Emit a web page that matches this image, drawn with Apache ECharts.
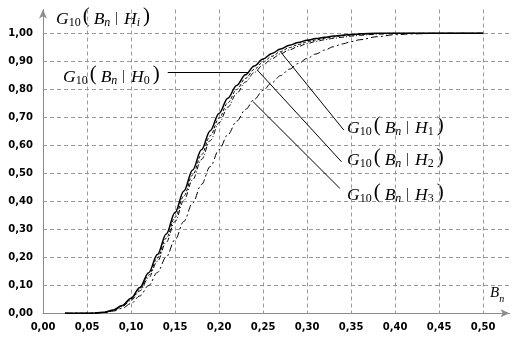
<!DOCTYPE html>
<html>
<head>
<meta charset="utf-8">
<script src="https://cdn.jsdelivr.net/npm/echarts@6/dist/echarts.min.js"></script>
<style>
  html, body { margin: 0; padding: 0; background: #fff; }
  #chart { width: 520px; height: 340px; }
</style>
</head>
<body>
<div id="chart"></div>
<script>
// B_n sample points shared by the four distribution curves
const bn = [0.025, 0.05, 0.06, 0.07, 0.08, 0.09, 0.10, 0.11, 0.12, 0.13, 0.14, 0.15,
            0.16, 0.17, 0.18, 0.19, 0.20, 0.21, 0.22, 0.23, 0.24, 0.25, 0.26, 0.27,
            0.28, 0.29, 0.30, 0.31, 0.32, 0.33, 0.34, 0.35, 0.36, 0.38, 0.40, 0.42,
            0.45, 0.50];

// G10(Bn | H0) .. G10(Bn | H3)
const gH0 = [0, 0, 0.001, 0.004, 0.012, 0.028, 0.054, 0.092, 0.145, 0.210, 0.283, 0.360,
             0.437, 0.512, 0.584, 0.652, 0.714, 0.768, 0.814, 0.852, 0.883, 0.908, 0.928, 0.944,
             0.957, 0.967, 0.975, 0.981, 0.986, 0.990, 0.993, 0.996, 0.998, 1.000, 1.000, 1.000,
             1.000, 1.000];
const gH1 = [0, 0, 0.001, 0.004, 0.011, 0.026, 0.050, 0.086, 0.136, 0.198, 0.268, 0.343,
             0.419, 0.494, 0.566, 0.634, 0.697, 0.752, 0.799, 0.839, 0.871, 0.897, 0.918, 0.935,
             0.949, 0.960, 0.969, 0.976, 0.982, 0.987, 0.991, 0.994, 0.996, 0.999, 1.000, 1.000,
             1.000, 1.000];
const gH2 = [0, 0, 0.001, 0.003, 0.010, 0.024, 0.046, 0.080, 0.127, 0.186, 0.254, 0.328,
             0.403, 0.477, 0.549, 0.617, 0.680, 0.736, 0.785, 0.826, 0.860, 0.887, 0.909, 0.927,
             0.941, 0.953, 0.963, 0.971, 0.977, 0.982, 0.986, 0.990, 0.993, 0.997, 0.999, 1.000,
             1.000, 1.000];
const gH3 = [0, 0, 0.0005, 0.002, 0.008, 0.018, 0.035, 0.062, 0.099, 0.146, 0.201, 0.263,
             0.328, 0.394, 0.460, 0.524, 0.584, 0.638, 0.686, 0.728, 0.764, 0.796, 0.824, 0.849,
             0.872, 0.892, 0.910, 0.926, 0.940, 0.952, 0.962, 0.970, 0.977, 0.988, 0.995, 0.998,
             1.000, 1.000];

// Leader lines from each caption to its curve, in (Bn, G) coordinates
const leaderH0 = [[0.1417, 0.8607], [0.2330, 0.8607]];
const leaderH1 = [[0.2701, 0.933], [0.3417, 0.6546]];
const leaderH2 = [[0.2434, 0.869], [0.3391, 0.5414]];
const leaderH3 = [[0.2383, 0.757], [0.3372, 0.4464]];

const fmtComma = v => v.toFixed(2).replace('.', ',');

// Rich-text tokens for the G10(Bn | Hk) captions; each token's box height
// (top-aligned) fixes where its glyphs sit, which gives the subscripts.
const serif = 'Liberation Serif';
const tok = (size, h, extra) => Object.assign({
  fontFamily: serif, fontSize: size, height: h, verticalAlign: 'top', fill: '#000'
}, extra || {});
const mathRich = {
  g:   tok(17.5, 20.5, { fontStyle: 'italic' }),
  v:   tok(17.5, 20.5, { fontStyle: 'italic' }),
  s:   tok(12, 27),
  si:  tok(12, 27, { fontStyle: 'italic' }),
  pl:  tok(21, 14.2, { padding: [0, 4, 0, 2] }),
  pr:  tok(21, 14.2, { padding: [0, 0, 0, 3] }),
  bar: tok(14, 17.8, { padding: [0, 6, 0, 5] })
};
function caption(sub, italicSub) {
  return '{g|G}{s|10}{pl|(}{v|B}{si|n}{bar||}{v|H}{' + (italicSub ? 'si' : 's') + '|' + sub + '}{pr|)}';
}
function captionEl(x, y, sub, italicSub) {
  return {
    type: 'text', x: x, y: y, silent: true,
    style: { text: caption(sub, italicSub), rich: mathRich, fill: '#000', align: 'left', verticalAlign: 'top' }
  };
}

function curve(name, ys, lineStyle) {
  return {
    name: name, type: 'line', data: bn.map((x, i) => [x, ys[i]]),
    showSymbol: false, smooth: 0.35, smoothMonotone: 'x', silent: true,
    lineStyle: Object.assign({ color: '#000' }, lineStyle)
  };
}
const leader = pts => [{ coord: pts[0] }, { coord: pts[1] }];

const chart = echarts.init(document.getElementById('chart'), null, { renderer: 'canvas' });
const axisGray = '#8c8c8c';
const labelStyle = { color: '#000', fontFamily: 'DejaVu Sans', fontWeight: 'bold', fontSize: 10 };
const gridDash = { color: '#9a9a9a', width: 1, type: [4, 3] };

const h0Series = curve('H0', gH0, { width: 1.5, type: 'solid' });
h0Series.markLine = {
  silent: true, symbol: ['none', 'none'], label: { show: false },
  lineStyle: { color: '#000', width: 1, type: 'solid' },
  data: [leader(leaderH0), leader(leaderH1), leader(leaderH2), leader(leaderH3)]
};

chart.setOption({
  animation: false,
  backgroundColor: '#fff',
  grid: { left: 43, right: 10.5, top: 9.5, bottom: 26.7, containLabel: false },
  xAxis: {
    type: 'value', min: 0, max: 0.53, interval: 0.05,
    axisLine: { show: true, onZero: false, symbol: ['none', 'arrow'], symbolSize: [6, 9],
                lineStyle: { color: axisGray, width: 1 } },
    axisTick: { show: false },
    axisLabel: Object.assign({ margin: 9, showMaxLabel: false,
                formatter: v => (v > 0.501 ? '' : fmtComma(v)) }, labelStyle),
    splitLine: { show: true, showMinLine: false, showMaxLine: false, lineStyle: gridDash }
  },
  yAxis: {
    type: 'value', min: 0, max: 1.085, interval: 0.1,
    axisLine: { show: true, onZero: false, symbol: ['none', 'arrow'], symbolSize: [6, 9],
                lineStyle: { color: axisGray, width: 1 } },
    axisTick: { show: false },
    axisLabel: Object.assign({ margin: 10, showMaxLabel: false,
                formatter: v => (v > 1.001 ? '' : fmtComma(v)) }, labelStyle),
    splitLine: { show: true, showMinLine: false, showMaxLine: false, lineStyle: gridDash }
  },
  series: [
    h0Series,
    curve('H1', gH1, { width: 1, type: [3, 2] }),
    curve('H2', gH2, { width: 1, type: [5, 2, 1, 2] }),
    curve('H3', gH3, { width: 1, type: [7, 3, 2, 3] })
  ],
  graphic: [
    captionEl(56, 9, 'i', true),
    captionEl(63, 67, '0', false),
    captionEl(347, 118, '1', false),
    captionEl(347, 150, '2', false),
    captionEl(347, 185, '3', false),
    {
      type: 'text', x: 490, y: 288, silent: true,
      style: {
        text: '{v|B}{si|n}', fill: '#000', align: 'left', verticalAlign: 'top',
        rich: {
          v: tok(15, 9.9, { fontStyle: 'italic' }),
          si: tok(10, 23, { fontStyle: 'italic' })
        }
      }
    }
  ]
});
</script>
</body>
</html>
